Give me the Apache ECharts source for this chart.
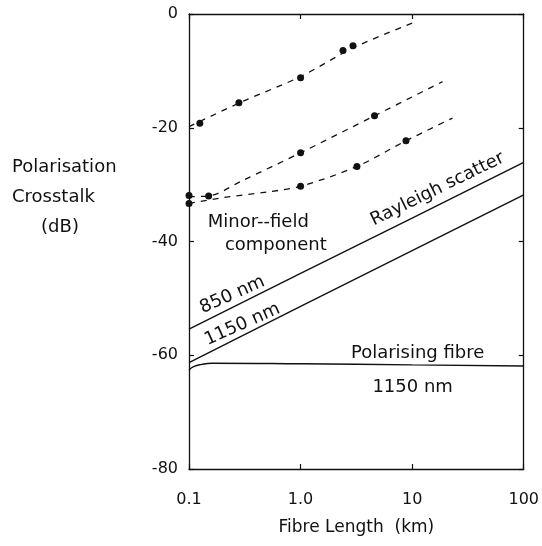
<!DOCTYPE html>
<html><head><meta charset="utf-8">
<script src="https://cdn.jsdelivr.net/npm/echarts@6/dist/echarts.min.js"></script>
<style>html,body{margin:0;padding:0;background:#fff}#c{width:542px;height:546px}</style>
</head><body><div id="c"></div>
<script>
// ---- data ----
const xTickValues = [0.1, 1, 10, 100];
const xTickLabels = ['0.1', '1.0', '10', '100'];
const yTickValues = [0, -20, -40, -60, -80];

// dashed fitted curves (minor-field component)
const curveTop = [[0.1, -19.8], [0.3, -15.4], [1, -11.0], [3, -5.9], [10, -1.6]];
const curveMid = [[0.1, -32.1], [0.15, -32.0], [0.3, -29.3], [1, -24.4], [4.6, -17.9], [18.7, -11.9]];
const curveLow = [[0.1, -33.3], [0.2, -32.3], [0.5, -31.3], [1, -30.3], [3.2, -26.8], [8.8, -22.3], [23, -18.3]];
// measured points
const pointsTop = [[0.125, -19.2], [0.28, -15.6], [1.0, -11.2], [2.4, -6.4], [2.95, -5.6]];
const pointsMid = [[0.1, -31.9], [0.15, -32.0], [1.0, -24.4], [4.6, -17.9]];
const pointsLow = [[0.1, -33.3], [1.0, -30.3], [3.2, -26.8], [8.8, -22.3]];
// Rayleigh scatter
const rayleigh850 = [[0.1, -55.4], [1, -45.6], [10, -35.9], [100, -26.1]];
const rayleigh1150 = [[0.1, -61.3], [1, -51.4], [10, -41.6], [100, -31.8]];
// polarising fibre 1150 nm
const polarising1150 = [[0.1, -62.6], [0.11, -62.0], [0.13, -61.6], [0.16, -61.4], [1, -61.5], [10, -61.7], [100, -61.9]];

// annotation texts
const notes = [
  { text: 'Rayleigh scatter', at: [16.9, -30.8], rotate: 26 },
  { text: '850 nm', at: [0.245, -49.4], rotate: 24 },
  { text: '1150 nm', at: [0.30, -54.6], rotate: 24 },
  { text: 'Minor--field', at: [0.418, -36.6], rotate: 0 },
  { text: 'component', at: [0.60, -40.6], rotate: 0 },
  { text: 'Polarising fibre', at: [11.2, -59.6], rotate: 0 },
  { text: '1150 nm', at: [10.1, -65.6], rotate: 0 }
];
const yName = ['Polarisation', 'Crosstalk', '(dB)'];

const FONT = 'DejaVu Sans';
const INK = '#111';

const chart = echarts.init(document.getElementById('c'), null, { renderer: 'canvas' });

function xAxisDef(pos, showLabel) {
  return {
    type: 'log', logBase: 10, min: 0.1, max: 100, position: pos,
    axisLine: { show: true, onZero: false, lineStyle: { color: INK, width: 1.3 } },
    axisTick: { show: true, inside: true, length: 5, lineStyle: { color: INK, width: 1.2 } },
    splitLine: { show: false }, minorTick: { show: false },
    axisLabel: {
      show: showLabel, margin: 23, fontFamily: FONT, fontSize: 16, color: INK,
      formatter: v => { const i = xTickValues.findIndex(t => Math.abs(t - v) / t < 1e-6); return i >= 0 ? xTickLabels[i] : ''; }
    },
    name: showLabel ? 'Fibre Length  (km)' : '', nameLocation: 'middle', nameGap: 50,
    nameTextStyle: { fontFamily: FONT, fontSize: 17, color: INK }
  };
}
function yAxisDef(pos, showLabel) {
  return {
    type: 'value', min: -80, max: 0, interval: 20, position: pos,
    axisLine: { show: true, onZero: false, lineStyle: { color: INK, width: 1.3 } },
    axisTick: { show: true, inside: true, length: 5, lineStyle: { color: INK, width: 1.2 } },
    splitLine: { show: false },
    axisLabel: { show: showLabel, margin: 11, fontFamily: FONT, fontSize: 16, color: INK,
      formatter: v => yTickValues.includes(v) ? String(v) : '' }
  };
}

const dashed = (d) => ({
  type: 'line', data: d, smooth: 0.3, symbol: 'none', xAxisIndex: 0, yAxisIndex: 0,
  lineStyle: { color: INK, width: 1.3, type: [6, 6], opacity: 1 }, z: 2
});
const solid = (d, s) => ({
  type: 'line', data: d, smooth: s, symbol: 'none', xAxisIndex: 0, yAxisIndex: 0,
  lineStyle: { color: INK, width: 1.4, opacity: 1 }, z: 2
});
const dots = (d) => ({
  type: 'scatter', data: d, symbol: 'circle', symbolSize: 7, xAxisIndex: 0, yAxisIndex: 0,
  itemStyle: { color: INK, opacity: 1 }, z: 3
});

chart.setOption({
  animation: false,
  backgroundColor: '#fff',
  grid: { left: 189, right: 14, top: 14, bottom: 77, containLabel: false },
  xAxis: [xAxisDef('bottom', true), xAxisDef('top', false)],
  yAxis: [yAxisDef('left', true), yAxisDef('right', false)],
  series: [
    dashed(curveTop), dashed(curveMid), dashed(curveLow),
    dots(pointsTop), dots(pointsMid), dots(pointsLow),
    solid(rayleigh850, false), solid(rayleigh1150, false), solid(polarising1150, 0.5),
    {
      type: 'scatter', symbolSize: 0, xAxisIndex: 0, yAxisIndex: 0, silent: true, z: 4,
      itemStyle: { opacity: 1 },
      data: notes.map(n => ({
        value: n.at,
        label: { show: true, position: 'inside', formatter: n.text, rotate: n.rotate,
          fontFamily: FONT, fontSize: 18, color: INK, opacity: 1, align: 'center', verticalAlign: 'middle' }
      }))
    }
  ],
  graphic: [
    { type: 'text', x: 12, y: 167, style: { text: yName[0], fontFamily: FONT, fontSize: 18, fill: INK, textAlign: 'left', textVerticalAlign: 'middle' } },
    { type: 'text', x: 12, y: 197, style: { text: yName[1], fontFamily: FONT, fontSize: 18, fill: INK, textAlign: 'left', textVerticalAlign: 'middle' } },
    { type: 'text', x: 60, y: 227, style: { text: yName[2], fontFamily: FONT, fontSize: 18, fill: INK, textAlign: 'center', textVerticalAlign: 'middle' } }
  ]
});
</script></body></html>
